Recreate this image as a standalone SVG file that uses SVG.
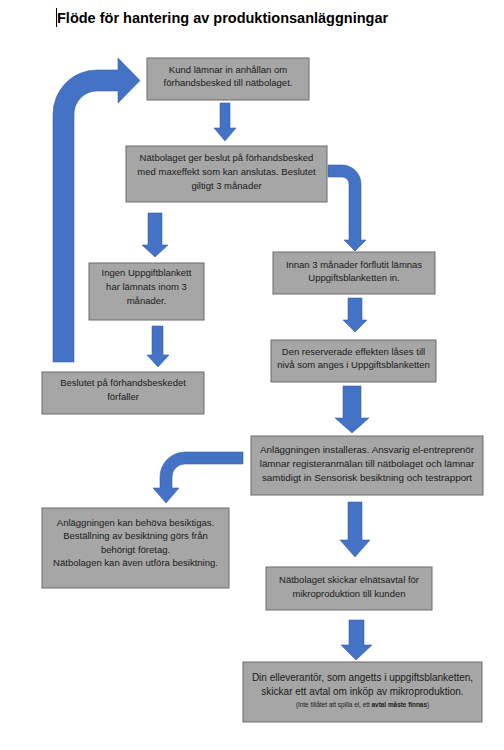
<svg xmlns="http://www.w3.org/2000/svg" width="504" height="750" viewBox="0 0 504 750">
<style>
.box{fill:#a6a6a6;stroke:#6b6b6b;stroke-width:1}
.t{font-family:"Liberation Sans",Arial,sans-serif;fill:#1a1a1a;text-anchor:middle}
.arr{fill:#4472c4;stroke:#3a62a8;stroke-width:0.6}
</style>
<rect width="504" height="750" fill="#ffffff"/>
<g id="title">
<line x1="56.5" y1="8" x2="56.5" y2="27" stroke="#000" stroke-width="1"/>
<text x="57" y="23" font-family="'Liberation Sans',Arial,sans-serif" font-weight="bold" font-size="14.5" fill="#000">Flöde för hantering av produktionsanläggningar</text>
</g>
<g id="connectors">
<path class="arr" d="M53,362 V114 A44,44 0 0 1 97,70 H118 V58 L140,80.5 L118,103 V91 H97 A23,23 0 0 0 74,114 V362 Z"/>
<path class="arr" d="M220,103 H230 V128 H236 L225,141 L214,128 H220 Z"/>
<path class="arr" d="M148,213 H162 V245 H168 L155,257 L142,245 H148 Z"/>
<path class="arr" d="M328,165 H342 A19,19 0 0 1 361,184 V240 H366 L355,251 L344,240 H349 V184 A7,7 0 0 0 342,177 H328 Z"/>
<path class="arr" d="M152,326 H163 V355 H169 L158,367 L147,355 H152 Z"/>
<path class="arr" d="M348,298 H362 V320 H367 L355,332 L343,320 H348 Z"/>
<path class="arr" d="M343,386 H361 V418 H369 L352,433 L335,418 H343 Z"/>
<path class="arr" d="M243,452 H185 A25,25 0 0 0 160,477 V488 H153 L166,503 L179,488 H172 V477 A13,13 0 0 1 185,464 H243 Z"/>
<path class="arr" d="M348,502 H362 V540 H370 L355,557 L340,540 H348 Z"/>
<path class="arr" d="M349,620 H364 V645 H372 L356,660 L341,645 H349 Z"/>
</g>
<g id="n1">
<rect class="box" x="147" y="58" width="162" height="42"/>
<text class="t" font-size="9.5" x="228" y="73">Kund lämnar in anhållan om</text>
<text class="t" font-size="9.5" x="228" y="86">förhandsbesked till nätbolaget.</text>
</g>
<g id="n2">
<rect class="box" x="126" y="146" width="201" height="56"/>
<text class="t" font-size="9.5" x="226.5" y="161">Nätbolaget ger beslut på förhandsbesked</text>
<text class="t" font-size="9.5" x="226.5" y="175">med maxeffekt som kan anslutas. Beslutet</text>
<text class="t" font-size="9.5" x="226.5" y="189">giltigt 3 månader</text>
</g>
<g id="n3">
<rect class="box" x="89" y="263" width="115" height="57"/>
<text class="t" font-size="9.5" x="146.5" y="276">Ingen Uppgiftblankett</text>
<text class="t" font-size="9.5" x="146.5" y="290">har lämnats inom 3</text>
<text class="t" font-size="9.5" x="146.5" y="304">månader.</text>
</g>
<g id="n4">
<rect class="box" x="42" y="372" width="162" height="42"/>
<text class="t" font-size="9.5" x="123" y="386">Beslutet på förhandsbeskedet</text>
<text class="t" font-size="9.5" x="123" y="400">förfaller</text>
</g>
<g id="n5">
<rect class="box" x="273" y="252" width="162" height="42"/>
<text class="t" font-size="9.5" x="354" y="268">Innan 3 månader förflutit lämnas</text>
<text class="t" font-size="9.5" x="354" y="281">Uppgiftsblanketten in.</text>
</g>
<g id="n6">
<rect class="box" x="271" y="340" width="165" height="42"/>
<text class="t" font-size="9.5" x="353.5" y="355">Den reserverade effekten låses till</text>
<text class="t" font-size="9.5" x="353.5" y="368">nivå som anges i Uppgiftsblanketten</text>
</g>
<g id="n7">
<rect class="box" x="251" y="436" width="232" height="59"/>
<text class="t" font-size="9.8" x="367" y="453">Anläggningen installeras. Ansvarig el-entreprenör</text>
<text class="t" font-size="9.8" x="367" y="467">lämnar registeranmälan till nätbolaget och lämnar</text>
<text class="t" font-size="9.8" x="367" y="481">samtidigt in Sensorisk besiktning och testrapport</text>
</g>
<g id="n8">
<rect class="box" x="42" y="508" width="187" height="80"/>
<text class="t" font-size="9.5" x="135.5" y="526">Anläggningen kan behöva besiktigas.</text>
<text class="t" font-size="9.5" x="135.5" y="539">Beställning av besiktning görs från</text>
<text class="t" font-size="9.5" x="135.5" y="553">behörigt företag.</text>
<text class="t" font-size="9.5" x="135.5" y="566">Nätbolagen kan även utföra besiktning.</text>
</g>
<g id="n9">
<rect class="box" x="266" y="567" width="166" height="43"/>
<text class="t" font-size="9.5" x="349" y="583">Nätbolaget skickar elnätsavtal för</text>
<text class="t" font-size="9.5" x="349" y="597">mikroproduktion till kunden</text>
</g>
<g id="n10">
<rect class="box" x="243" y="662" width="239" height="60"/>
<text class="t" font-size="10" x="362.5" y="681">Din elleverantör, som angetts i uppgiftsblanketten,</text>
<text class="t" font-size="10" x="362.5" y="695">skickar ett avtal om inköp av mikroproduktion.</text>
<text class="t" font-size="6.4" x="362.5" y="707">(Inte tillåtet att spilla el, ett <tspan font-weight="bold">avtal måste finnas</tspan>)</text>
</g>
</svg>
